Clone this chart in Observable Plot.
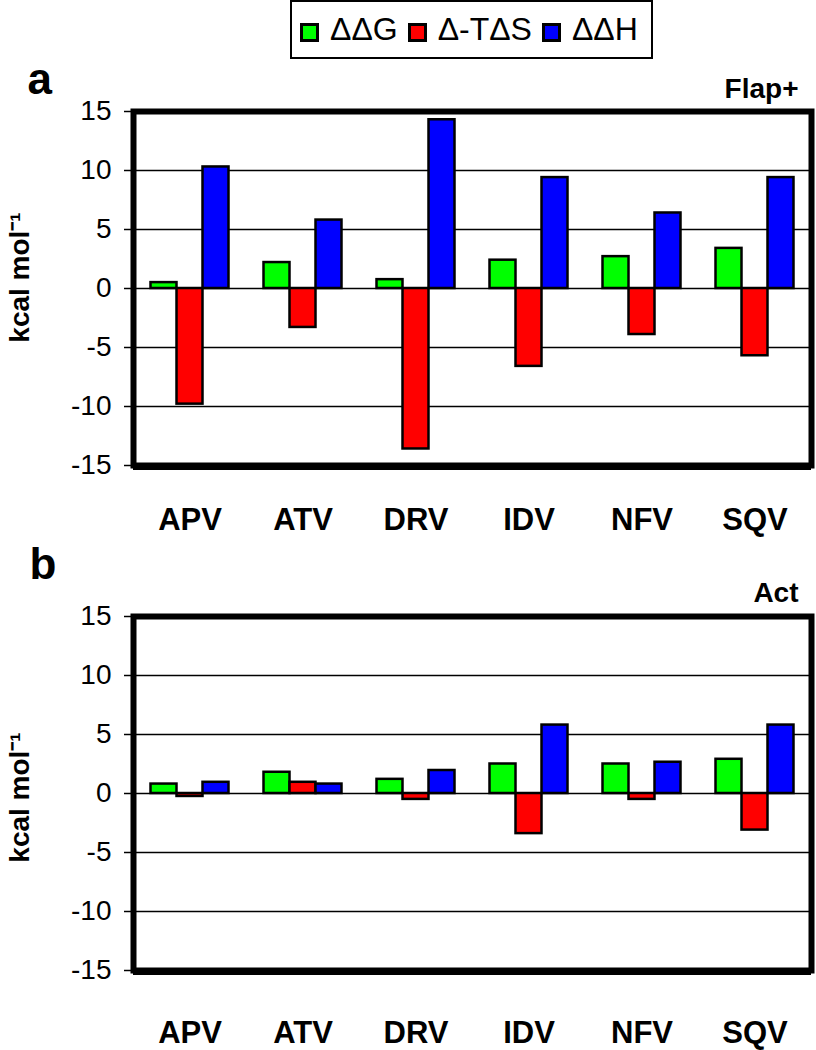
<!DOCTYPE html>
<html>
<head>
<meta charset="utf-8">
<script src="https://cdn.jsdelivr.net/npm/d3@7"></script>
<script src="https://cdn.jsdelivr.net/npm/@observablehq/plot@0.6"></script>
<style>
  body { margin: 0; background: #fff; }
  #root { position: relative; width: 816px; height: 1050px; overflow: hidden; background: #fff;
          font-family: 'Liberation Sans', Arial, sans-serif; color: #000; }
  #legend { position: absolute; left: 290px; top: 0px; width: 363px; height: 59px; box-sizing: border-box;
            border: 2px solid #000; display: flex; align-items: center; padding-left: 8px; font-size: 32px; }
  .item { display: flex; align-items: center; margin-right: 10px; }
  .sw { width: 19px; height: 19px; box-sizing: border-box; border: 3px solid #000; margin-right: 11px;
        position: relative; top: 3px; }
  #pa { position: absolute; left: 0; top: 60px; }
  #pb { position: absolute; left: 0; top: 560px; }
</style>
</head>
<body>
<div id="root">
  <div id="legend"></div>
  <div id="pa"></div>
  <div id="pb"></div>
</div>
<script>
// ---- data ----
const categories = ["APV", "ATV", "DRV", "IDV", "NFV", "SQV"];
const seriesNames = ["ΔΔG", "Δ-TΔS", "ΔΔH"];
const seriesColors = ["#00ff00", "#ff0000", "#0000ff"];
const yTicks = [-15, -10, -5, 0, 5, 10, 15];
const gridValues = [-10, -5, 0, 5, 10];
const yLabel = "kcal mol⁻¹";

// Panel a: Flap+
const flapG  = [0.5, 2.2, 0.75, 2.4, 2.7, 3.4];
const flapTS = [-9.8, -3.3, -13.6, -6.6, -3.9, -5.7];
const flapH  = [10.3, 5.8, 14.3, 9.4, 6.4, 9.4];

// Panel b: Act
const actG  = [0.8, 1.8, 1.2, 2.5, 2.5, 2.9];
const actTS = [-0.25, 0.95, -0.5, -3.4, -0.5, -3.1];
const actH  = [0.95, 0.8, 1.95, 5.8, 2.65, 5.8];

// ---- legend ----
const legend = document.getElementById("legend");
seriesNames.forEach((name, k) => {
  const item = document.createElement("div");
  item.className = "item";
  const sw = document.createElement("div");
  sw.className = "sw";
  sw.style.background = seriesColors[k];
  const label = document.createElement("span");
  label.textContent = name;
  item.appendChild(sw);
  item.appendChild(label);
  legend.appendChild(item);
});

// ---- panels ----
const FONT = "'Liberation Sans', Arial, sans-serif";
function panel(cfg) {
  const series = [cfg.g, cfg.s, cfg.h];
  const bw = 26, side = 17.5;
  const bars = series.map((vals, k) =>
    Plot.barY(categories.map((c, i) => ({cat: c, v: vals[i]})), {
      x: "cat", y: "v",
      fill: seriesColors[k], stroke: "black", strokeWidth: 2.5,
      insetLeft: side + k * bw, insetRight: side + (2 - k) * bw
    })
  );
  return Plot.plot({
    width: 816,
    height: cfg.height,
    marginLeft: 133,
    marginRight: 5,
    marginTop: cfg.marginTop,
    marginBottom: cfg.marginBottom,
    style: {fontFamily: FONT, background: "white", color: "black", overflow: "visible"},
    x: {type: "band", domain: categories, padding: 0, axis: null},
    y: {domain: [-15, 15], axis: null},
    marks: [
      Plot.ruleY(gridValues, {stroke: "black", strokeWidth: 1.5}),
      ...bars,
      Plot.frame({stroke: "black", strokeWidth: 6}),
      Plot.ruleY([-15], {stroke: "black", strokeWidth: 3, dy: 3}),
      Plot.axisY({ticks: yTicks, tickSize: 9, tickPadding: 13, fontSize: 28,
                  tickFormat: d => String(d), label: null, stroke: "black", strokeWidth: 1.5, fill: "black"}),
      Plot.text(categories, {x: d => d, text: d => d, frameAnchor: "bottom", lineAnchor: "top",
                             dy: cfg.xLabelDy, fontSize: 31, fontWeight: "bold", fill: "black"}),
      Plot.text([cfg.title], {text: d => d, frameAnchor: "top-right", textAnchor: "end", lineAnchor: "middle",
                              dx: -13, dy: cfg.titleDy, fontSize: 28, fontWeight: "bold", fill: "black"}),
      Plot.text([cfg.letter], {text: d => d, frameAnchor: "top-left", textAnchor: "start", lineAnchor: "middle",
                               dx: cfg.letterDx, dy: cfg.letterDy, fontSize: 44, fontWeight: "bold", fill: "black"}),
      Plot.text([yLabel], {text: d => d, frameAnchor: "left", textAnchor: "middle", lineAnchor: "middle",
                           rotate: -90, dx: -113, dy: cfg.labelDy, fontSize: 28, fontWeight: "bold", fill: "black"})
    ]
  });
}

document.getElementById("pa").appendChild(panel({
  g: flapG, s: flapTS, h: flapH, letter: "a", title: "Flap+",
  height: 500, marginTop: 51, marginBottom: 95,
  letterDx: -106, letterDy: -32, titleDy: -22, labelDy: -11, xLabelDy: 42
}));

document.getElementById("pb").appendChild(panel({
  g: actG, s: actTS, h: actH, letter: "b", title: "Act",
  height: 490, marginTop: 56, marginBottom: 80,
  letterDx: -104, letterDy: -52, titleDy: -23, labelDy: 4, xLabelDy: 50
}));
</script>
</body>
</html>
